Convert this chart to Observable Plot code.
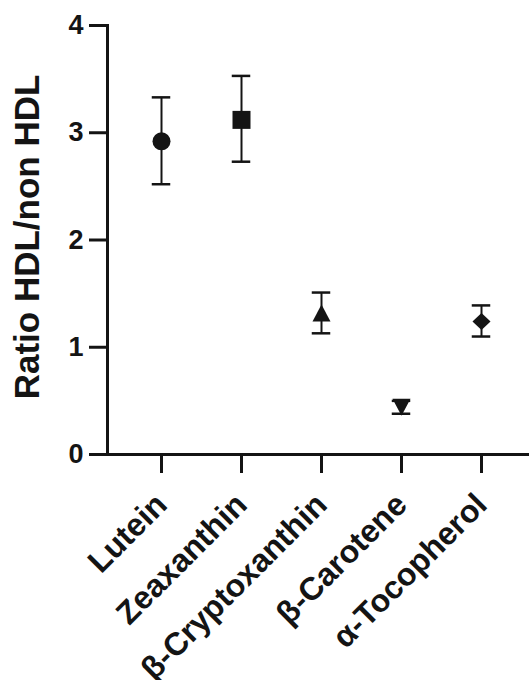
<!DOCTYPE html>
<html>
<head>
<meta charset="utf-8">
<script src="https://cdn.jsdelivr.net/npm/d3@7"></script>
<script src="https://cdn.jsdelivr.net/npm/@observablehq/plot@0.6"></script>
<style>
  html, body { margin: 0; padding: 0; background: #fff; }
  svg { display: block; }
</style>
</head>
<body>
<div id="chart"></div>
<script>
const categories = ["Lutein", "Zeaxanthin", "β-Cryptoxanthin", "β-Carotene", "α-Tocopherol"];
const means = [2.92, 3.12, 1.32, 0.44, 1.24];
const lower = [2.52, 2.73, 1.13, 0.38, 1.10];
const upper = [3.33, 3.53, 1.51, 0.50, 1.39];
const yTicks = [0, 1, 2, 3, 4];
const yTitle = "Ratio HDL/non HDL";

const data = categories.map((c, i) => ({name: c, mean: means[i], lo: lower[i], hi: upper[i]}));

const INK = "#141414";

// custom symbols (centered on bounding box)
const sCircle = {draw(ctx, size) { const r = 9; ctx.moveTo(r, 0); ctx.arc(0, 0, r, 0, 2 * Math.PI); }};
const sSquare = {draw(ctx, size) { const h = 9; ctx.rect(-h, -h, 2 * h, 2 * h); }};
const sTriUp = {draw(ctx, size) { const w = 9, h = 8.5; ctx.moveTo(0, -h); ctx.lineTo(w, h); ctx.lineTo(-w, h); ctx.closePath(); }};
const sTriDown = {draw(ctx, size) { const w = 9, h = 8.5; ctx.moveTo(0, h); ctx.lineTo(w, -h); ctx.lineTo(-w, -h); ctx.closePath(); }};
const sDiamond = {draw(ctx, size) { const w = 9, h = 8.5; ctx.moveTo(0, -h); ctx.lineTo(w, 0); ctx.lineTo(0, h); ctx.lineTo(-w, 0); ctx.closePath(); }};

const chart = Plot.plot({
  width: 529,
  height: 680,
  marginLeft: 107,
  marginRight: 0,
  marginTop: 25,
  marginBottom: 226,
  style: {fontFamily: "'Liberation Sans', Arial, Helvetica, sans-serif", color: INK, background: "#fff"},
  x: {type: "band", domain: categories, range: [119.75, 522.25], padding: 0, label: null},
  y: {domain: [0, 4], label: null},
  symbol: {domain: categories, range: [sCircle, sSquare, sTriUp, sTriDown, sDiamond]},
  marks: [
    Plot.frame({anchor: "left", stroke: INK, strokeWidth: 3}),
    Plot.frame({anchor: "bottom", stroke: INK, strokeWidth: 3}),
    Plot.axisY({ticks: yTicks, tickFormat: d3.format("d"), tickSize: 18, tickPadding: 6, strokeWidth: 3, stroke: INK,
      fontSize: 27, fontWeight: "bold", fill: INK, label: null}),
    Plot.axisX({tickSize: 19, text: null, strokeWidth: 3, stroke: INK, label: null}),
    Plot.axisX({tickSize: 0, tickPadding: 45, tickRotate: -45,
      fontSize: 32, fontWeight: "bold", fill: INK, label: null}),
    Plot.text([yTitle], {frameAnchor: "left", rotate: -90, dx: -80, dy: -3, text: d => d,
      fontSize: 35, fontWeight: "bold", fill: INK, textAnchor: "middle"}),
    Plot.ruleX(data, {x: "name", y1: "lo", y2: "hi", stroke: INK, strokeWidth: 2}),
    Plot.tickY(data, {x: "name", y: "lo", stroke: INK, strokeWidth: 2.5, insetLeft: 30.75, insetRight: 30.75}),
    Plot.tickY(data, {x: "name", y: "hi", stroke: INK, strokeWidth: 2.5, insetLeft: 30.75, insetRight: 30.75}),
    Plot.dot(data, {x: "name", y: "mean", symbol: "name", fill: INK, stroke: "none", r: 9})
  ]
});

document.getElementById("chart").appendChild(chart);
</script>
</body>
</html>
